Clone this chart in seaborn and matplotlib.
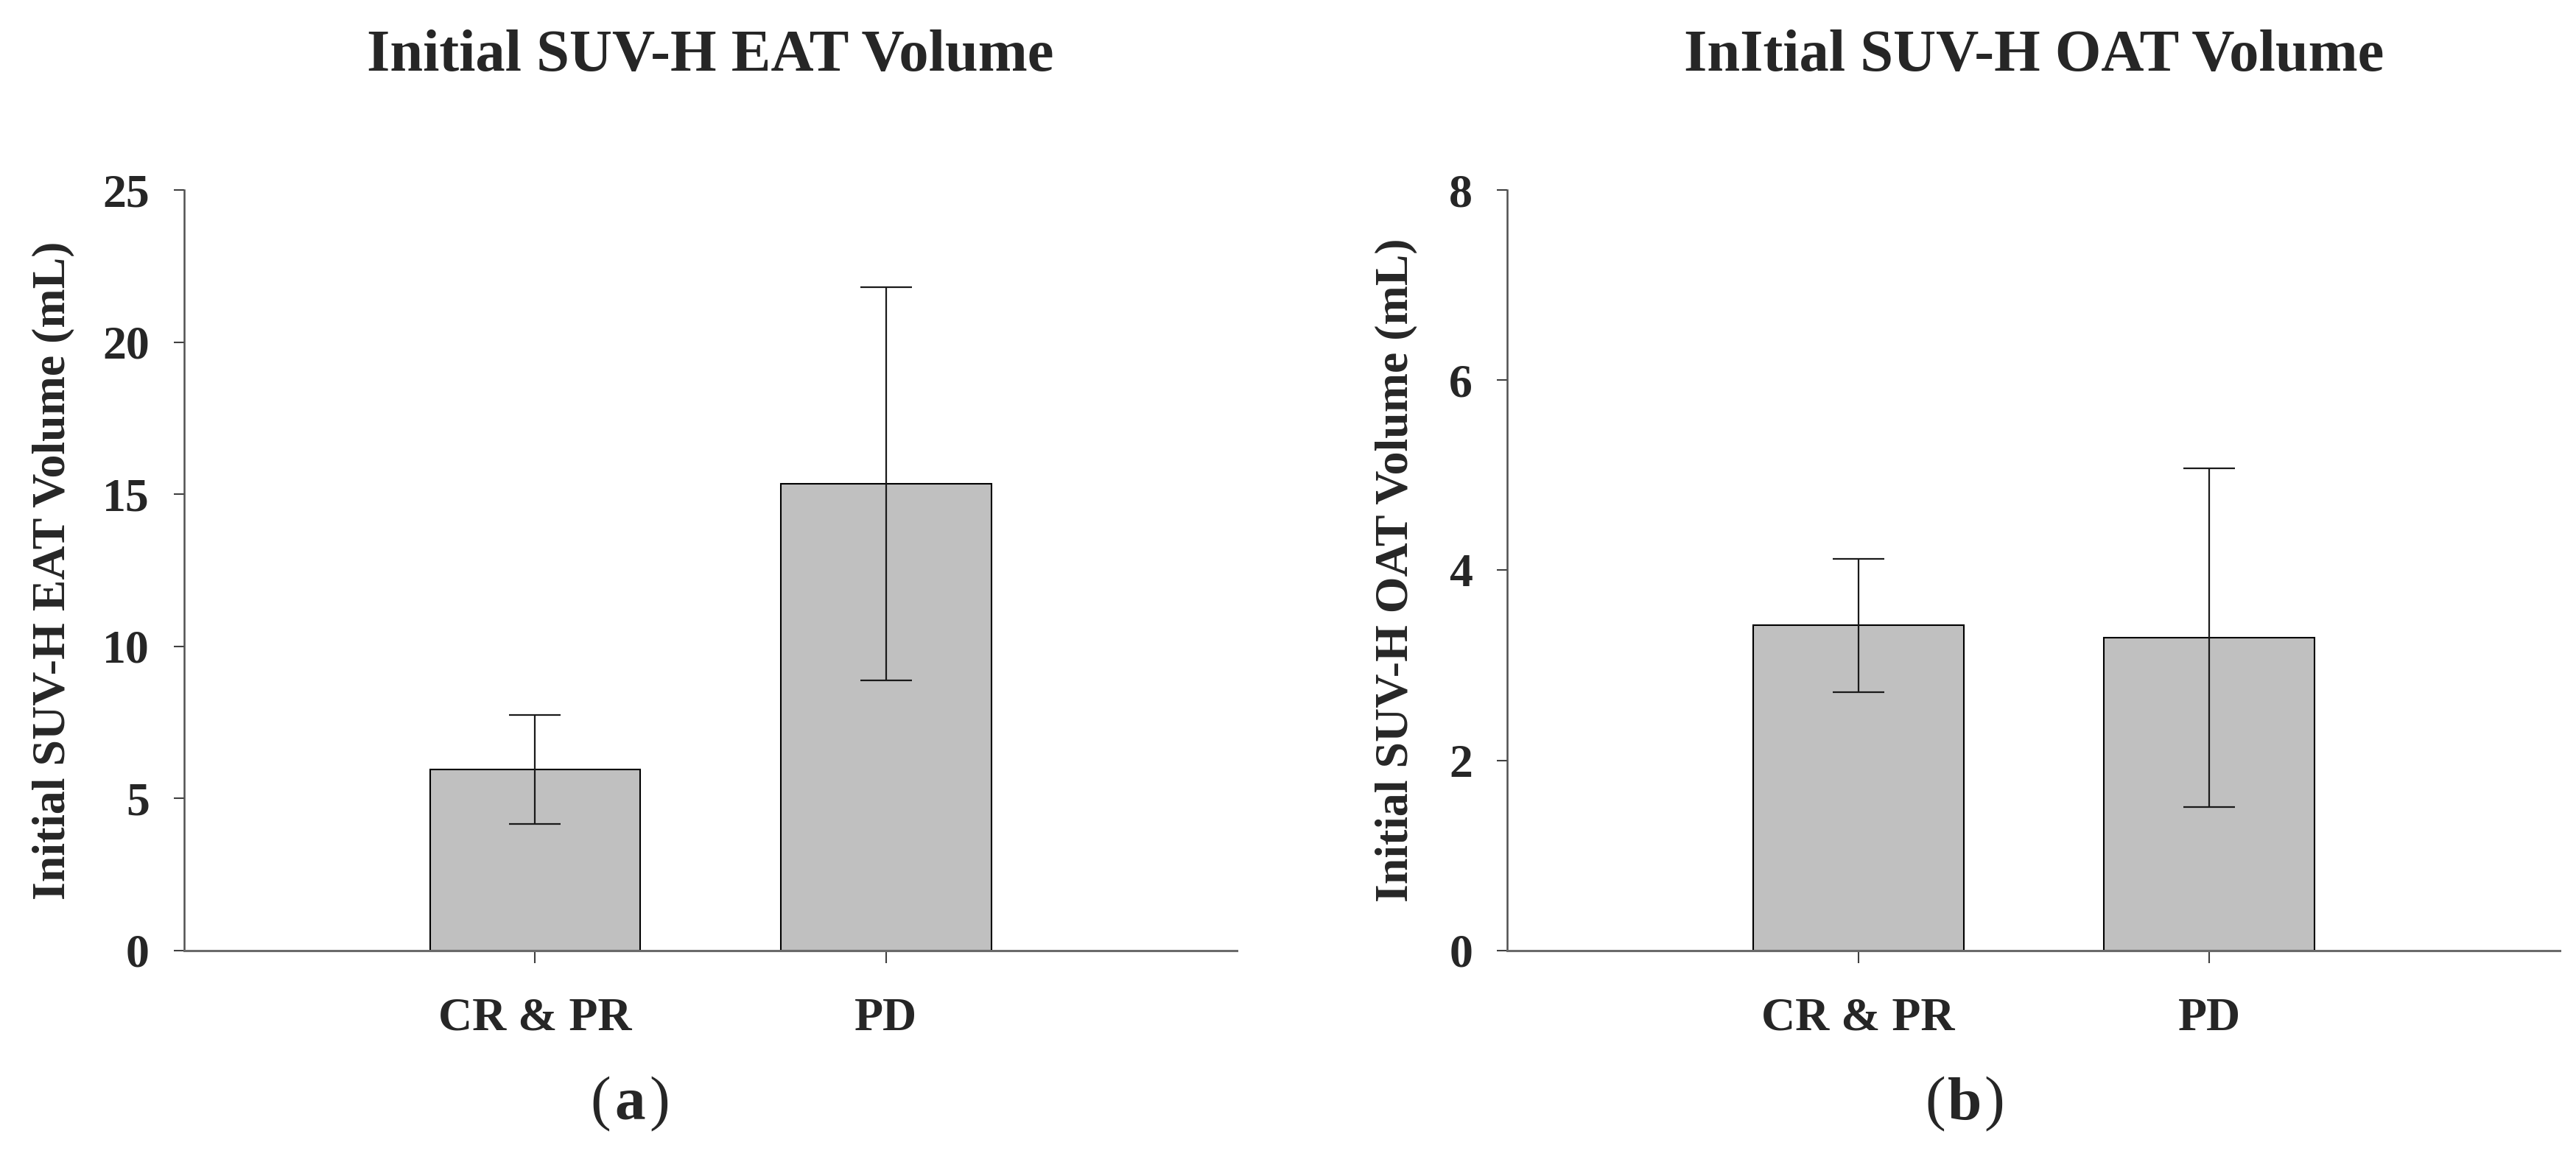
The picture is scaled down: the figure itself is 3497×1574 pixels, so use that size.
import numpy as np
import pandas as pd
import matplotlib
matplotlib.use("Agg")
import matplotlib.pyplot as plt
import seaborn as sns

# ---- datos ----
grupos = ["CR & PR", "PD"]
eat_media = [5.95, 15.35]
eat_error = [1.80, 6.46]
oat_media = [3.42, 3.29]
oat_error = [0.70, 1.78]

titulos = ["Initial SUV-H EAT Volume", "InItial SUV-H OAT Volume"]
etiquetas_y = ["Initial SUV-H EAT Volume (mL)", "Initial SUV-H OAT Volume (mL)"]
ticks_y = [[0, 5, 10, 15, 20, 25], [0, 2, 4, 6, 8]]
paneles = ["a", "b"]

sns.set_style("white")
plt.rcParams["font.family"] = ["Liberation Serif", "DejaVu Serif"]

fig = plt.figure(figsize=(34.98, 15.74), dpi=100)
ax1 = fig.add_axes([0.0715, 0.180, 0.4085, 0.656])
ax2 = fig.add_axes([0.585, 0.180, 0.4085, 0.656])

tablas = [
    pd.DataFrame({"grupo": grupos, "media": eat_media, "error": eat_error}),
    pd.DataFrame({"grupo": grupos, "media": oat_media, "error": oat_error}),
]
coords_label = [-0.104, -0.085]
centros_panel = [0.2445, 0.7625]

for i, (ax, df) in enumerate(zip([ax1, ax2], tablas)):
    sns.barplot(data=df, x="grupo", y="media", order=grupos, color="#c0c0c0",
                edgecolor="black", linewidth=1.5, width=0.6, errorbar=None,
                saturation=1, ax=ax)
    ax.errorbar(np.arange(len(grupos)), df["media"], yerr=df["error"], fmt="none",
                ecolor="#1a1a1a", elinewidth=1.6, capsize=25, capthick=1.6)

    ax.set_xlim(-1, 2)
    ax.set_ylim(0, ticks_y[i][-1])
    ax.set_yticks(ticks_y[i])
    ax.set_xlabel("")
    ax.set_ylabel(etiquetas_y[i], fontsize=46, fontweight="bold")
    ax.yaxis.set_label_coords(coords_label[i], 0.5)
    ax.set_title(titulos[i], fontsize=58, fontweight="bold", pad=117)

    sns.despine(ax=ax)
    ax.spines["left"].set_color("#505050")
    ax.spines["left"].set_linewidth(1.8)
    ax.spines["bottom"].set_color("#6a6a6a")
    ax.spines["bottom"].set_linewidth(2.2)

    ax.tick_params(axis="y", direction="out", length=10, width=1.5, color="#404040",
                   pad=24, labelsize=46, left=True)
    ax.tick_params(axis="x", direction="out", length=12, width=1.5, color="#404040",
                   pad=34, labelsize=46, bottom=True)
    for lab in ax.get_xticklabels() + ax.get_yticklabels():
        lab.set_fontweight("bold")

    # etiqueta del panel: (a) / (b)
    fig.text(centros_panel[i], 0.047, paneles[i], fontsize=60, fontweight="bold",
             ha="center", va="center")
    fig.text(centros_panel[i] - 0.0075, 0.047, "(", fontsize=60, ha="right", va="center")
    fig.text(centros_panel[i] + 0.0075, 0.047, ")", fontsize=60, ha="left", va="center")

plt.savefig("out.png", dpi=100, facecolor="white")
